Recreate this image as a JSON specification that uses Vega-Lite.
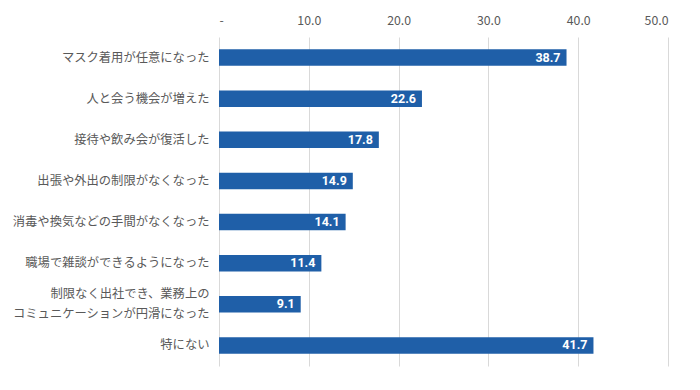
{
  "$schema": "https://vega.github.io/schema/vega-lite/v6.json",
  "width": 449,
  "height": 329,
  "autosize": {"type": "none"},
  "padding": {"left": 219, "top": 37, "right": 32, "bottom": 24},
  "background": "white",
  "config": {
    "view": {"stroke": null},
    "font": "Noto Sans CJK JP"
  },
  "data": {
    "values": [
      {"item": "マスク着用が任意になった", "value": 38.7},
      {"item": "人と会う機会が増えた", "value": 22.6},
      {"item": "接待や飲み会が復活した", "value": 17.8},
      {"item": "出張や外出の制限がなくなった", "value": 14.9},
      {"item": "消毒や換気などの手間がなくなった", "value": 14.1},
      {"item": "職場で雑談ができるようになった", "value": 11.4},
      {"item": "制限なく出社でき、業務上の|コミュニケーションが円滑になった", "value": 9.1},
      {"item": "特にない", "value": 41.7}
    ]
  },
  "encoding": {
    "y": {
      "field": "item",
      "type": "nominal",
      "sort": null,
      "scale": {"paddingInner": 0.6, "paddingOuter": 0.3},
      "axis": {
        "title": null,
        "domain": false,
        "ticks": false,
        "labelPadding": 10,
        "labelFontSize": 12.3,
        "labelColor": "#595959",
        "labelLimit": 300,
        "labelLineHeight": 20,
        "labelOffset": {"condition": {"test": "indexof(datum.label, '|') >= 0", "value": -10}, "value": 0},
        "labelExpr": "split(datum.label, '|')"
      }
    },
    "x": {
      "field": "value",
      "type": "quantitative",
      "scale": {"domain": [0, 50]},
      "axis": {
        "orient": "top",
        "title": null,
        "values": [0, 10, 20, 30, 40, 50],
        "domain": false,
        "ticks": false,
        "labelPadding": 10,
        "labelFontSize": 12.3,
        "labelColor": "#595959",
        "gridColor": "#d9d9d9",
        "labelExpr": "datum.value == 0 ? '-' : format(datum.value, '.1f')"
      }
    }
  },
  "layer": [
    {"mark": {"type": "bar", "color": "#1f5fa8"}},
    {
      "mark": {"type": "text", "align": "right", "dx": -6, "color": "white", "fontWeight": "bold", "fontSize": 12.5, "font": "Roboto"},
      "encoding": {"text": {"field": "value", "type": "quantitative", "format": ".1f"}}
    }
  ]
}
